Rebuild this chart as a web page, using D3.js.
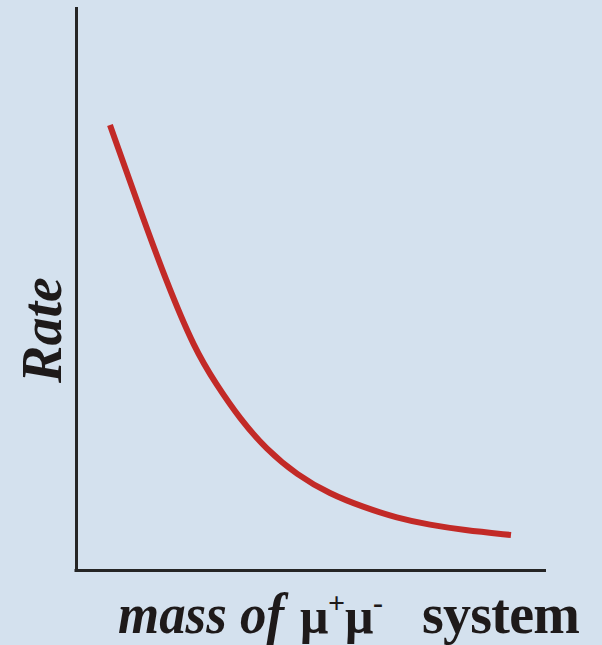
<!DOCTYPE html>
<html>
<head>
<meta charset="utf-8">
<script src="https://cdn.jsdelivr.net/npm/d3@7"></script>
<style>
  html, body { margin: 0; padding: 0; background: #d4e1ee; }
  svg { display: block; }
</style>
</head>
<body>
<script>
// Data (arbitrary units; no ticks shown in the original)
const mass = [7.23, 13.19, 19.15, 25.32, 29.79, 34.89, 40.43, 47.02, 54.04, 61.06, 68.30, 75.32, 82.34, 92.55];
const rate = [79.18, 65.12, 51.42, 39.15, 33.10, 26.87, 21.53, 16.90, 13.52, 11.21, 9.25, 8.01, 7.12, 6.23];
const xDomain = [0, 100];
const yDomain = [0, 100];
const yLabel = "Rate";
const xLabelItalic = "mass of";
const xLabelParts = ["\u03bc", "+", "\u03bc", "-", "system"];

const W = 602, H = 645;
const svg = d3.select("body").append("svg").attr("width", W).attr("height", H);
svg.append("rect").attr("width", W).attr("height", H).attr("fill", "#d4e1ee");

const x = d3.scaleLinear().domain(xDomain).range([76, 546]);
const y = d3.scaleLinear().domain(yDomain).range([570, 8]);

// Axes (plain lines, no ticks)
const xAxis = d3.axisBottom(x).tickValues([]).tickSizeOuter(0);
const yAxis = d3.axisLeft(y).tickValues([]).tickSizeOuter(0);
const gx = svg.append("g").attr("transform", "translate(0,570)").call(xAxis);
const gy = svg.append("g").attr("transform", "translate(76.5,0)").call(yAxis);
[gx, gy].forEach(g => g.select(".domain").attr("stroke", "#252525").attr("stroke-width", 3));
gx.select(".domain").attr("d", `M${x(0)-1.5},0.5H${x(100)}`);
gy.select(".domain").attr("d", `M0,${y(100)-1}V${y(0)+1.5}`);

// Curve
const pts = mass.map((m, i) => [m, rate[i]]);
const line = d3.line().x(d => x(d[0])).y(d => y(d[1])).curve(d3.curveBasis);
svg.append("path").datum(pts).attr("d", line)
  .attr("fill", "none").attr("stroke", "#c22a27").attr("stroke-width", 6)
  .attr("stroke-linecap", "butt");

const font = "'Liberation Serif', 'Times New Roman', serif";

// Y label
svg.append("text")
  .attr("transform", "translate(61,330) rotate(-90)")
  .attr("text-anchor", "middle")
  .attr("font-family", font)
  .attr("font-weight", "bold").attr("font-style", "italic")
  .attr("font-size", 56).attr("fill", "#1e1a1a")
  .text(yLabel);

// X label
const xt = svg.append("text")
  .attr("y", 633)
  .attr("font-family", font)
  .attr("font-weight", "bold").attr("font-size", 56).attr("fill", "#1e1a1a");
xt.append("tspan").attr("x", 118).attr("font-style", "italic")
  .attr("textLength", 166).attr("lengthAdjust", "spacingAndGlyphs").text(xLabelItalic);
xt.append("tspan").attr("x", 300).attr("font-size", 50).text(xLabelParts[0]);
xt.append("tspan").attr("x", 328).attr("font-size", 30).attr("dy", -20).text(xLabelParts[1]);
xt.append("tspan").attr("x", 345).attr("font-size", 50).attr("dy", 20).text(xLabelParts[2]);
xt.append("tspan").attr("x", 373).attr("font-size", 30).attr("dy", -20).text(xLabelParts[3]);
xt.append("tspan").attr("x", 422).attr("dy", 20).attr("textLength", 158).text(xLabelParts[4]);
</script>
</body>
</html>
